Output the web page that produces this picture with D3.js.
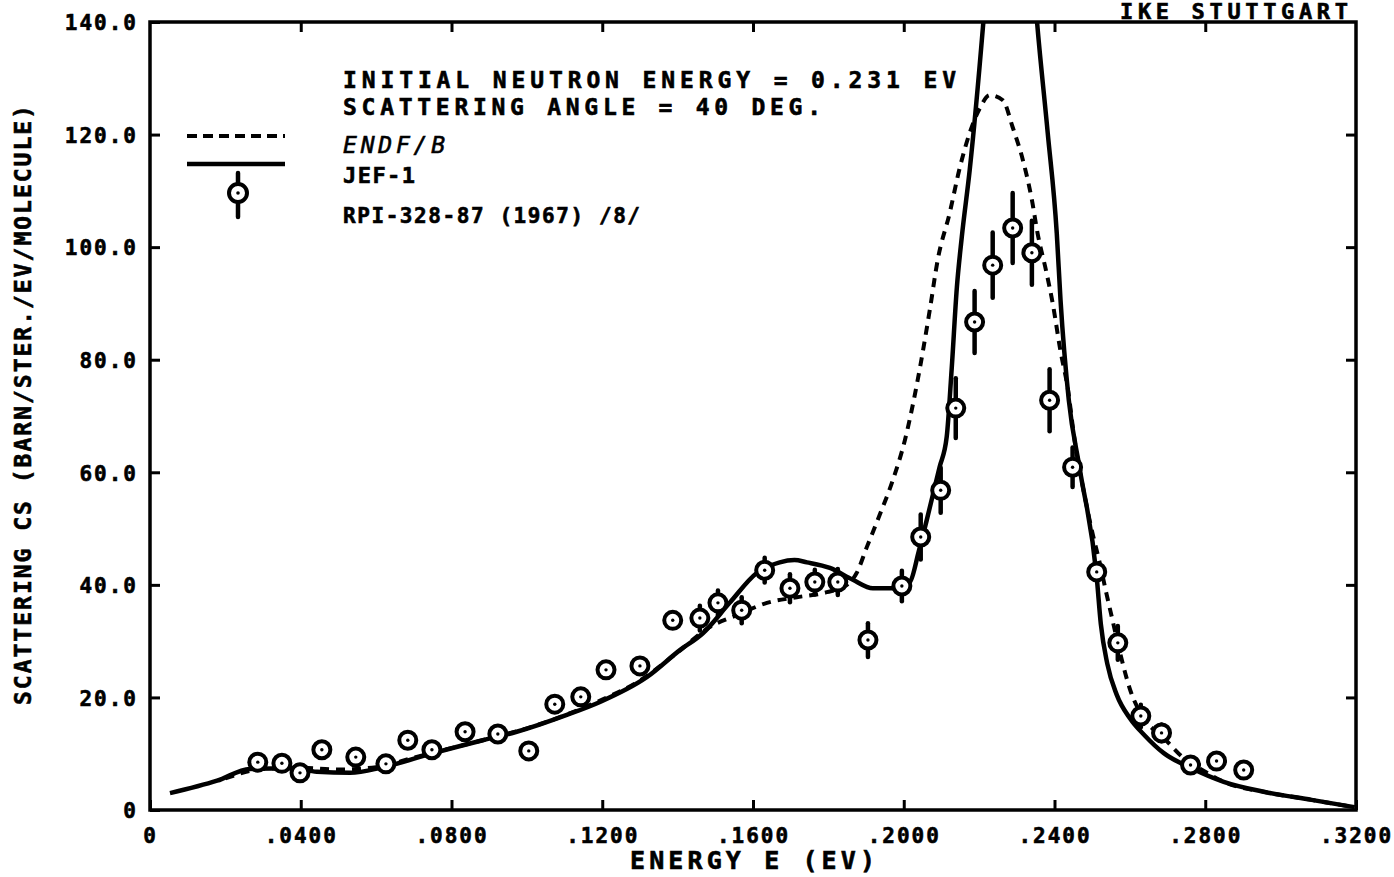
<!DOCTYPE html>
<html>
<head>
<meta charset="utf-8">
<script src="https://cdn.jsdelivr.net/npm/d3@7/dist/d3.min.js"></script>
<style>
  body { margin: 0; background: #fff; }
  svg { display: block; }
  text { font-family: "DejaVu Sans Mono", "Liberation Mono", monospace; font-weight: bold; fill: #000; stroke: #000; stroke-width: 0.6px; }
</style>
</head>
<body>
<svg id="chart" width="1394" height="877"></svg>
<script>
// ---- Axis ticks ----
const xTickValues = [0, 0.04, 0.08, 0.12, 0.16, 0.20, 0.24, 0.28, 0.32];
const xTickLabels = ["0", ".0400", ".0800", ".1200", ".1600", ".2000", ".2400", ".2800", ".3200"];
const yTickValues = [0, 20, 40, 60, 80, 100, 120, 140];
const yTickLabels = ["0", "20.0", "40.0", "60.0", "80.0", "100.0", "120.0", "140.0"];

// ---- ENDF/B evaluation (dashed) ----
const endfEnergy = [0.0200, 0.0300, 0.0400, 0.0500, 0.0600, 0.0700, 0.0800, 0.0900, 0.1000, 0.1100,
  0.1200, 0.1300, 0.1400, 0.1485, 0.1557, 0.1637, 0.1716, 0.1796, 0.1849, 0.1875,
  0.1902, 0.1936, 0.1971, 0.2003, 0.2037, 0.2069, 0.2090, 0.2122, 0.2149, 0.2175,
  0.2202, 0.2228, 0.2263, 0.2289, 0.2316, 0.2340, 0.2355, 0.2379, 0.2395, 0.2416,
  0.2435, 0.2454, 0.2480, 0.2499, 0.2520, 0.2538, 0.2552, 0.2573, 0.2602, 0.2637,
  0.2690, 0.2743, 0.2800, 0.2849, 0.2958, 0.3082, 0.3196];
const endfCS = [5.6, 7.3, 7.5, 7.2, 7.6, 9.3, 11.0, 12.7, 14.5, 16.8,
  19.6, 23.0, 28.0, 32.5, 34.6, 36.8, 37.8, 38.7, 40.0, 42.1,
  46.7, 52.4, 58.6, 65.7, 76.4, 88.8, 97.7, 106.1, 114.2, 120.3,
  124.7, 127.0, 126.1, 121.3, 115.5, 108.4, 102.5, 95.4, 90.1, 81.5,
  75.0, 65.4, 55.8, 49.7, 43.9, 38.4, 34.3, 28.2, 21.1, 16.3,
  12.8, 9.2, 6.8, 5.0, 3.2, 1.8, 0.5];

// ---- JEF-1 evaluation (solid) ----
const jefEnergy = [0.0053, 0.0178, 0.0265, 0.0371, 0.0443, 0.0531, 0.0618, 0.0751, 0.0883, 0.0973,
  0.1106, 0.1194, 0.1318, 0.1406, 0.1467, 0.1538, 0.1610, 0.1671, 0.1710, 0.1743, 0.1804,
  0.1865, 0.1918, 0.1971, 0.2016, 0.2040, 0.2061, 0.2095, 0.2114, 0.2127, 0.2141,
  0.2154, 0.2175, 0.2210, 0.2240, 0.2283, 0.2325, 0.2355, 0.2382, 0.2406, 0.2416,
  0.2438, 0.2467, 0.2512, 0.2523, 0.2540, 0.2565, 0.2600, 0.2640, 0.2690, 0.2761,
  0.2849, 0.2958, 0.3082, 0.3196];
const jefCS = [3.0, 5.2, 7.3, 7.4, 6.8, 6.6, 7.6, 10.1, 12.4, 13.9,
  16.9, 19.2, 23.6, 28.4, 31.4, 36.8, 42.1, 44.0, 44.4, 44.0, 43.0,
  40.9, 39.4, 39.4, 40.5, 46.0, 51.5, 60.9, 66.3, 78.2, 92.9,
  101.8, 113.7, 139.0, 165.0, 180.0, 165.0, 139.0, 120.3, 102.5, 90.6,
  72.8, 60.6, 41.4, 33.0, 26.0, 20.5, 16.3, 13.2, 10.1, 7.5,
  5.0, 3.2, 1.8, 0.5];

// ---- RPI-328-87 (1967) measurement ----
const measEnergy = [0.0286, 0.0350, 0.0398, 0.0456, 0.0546, 0.0626, 0.0684, 0.0748, 0.0836, 0.0923,
  0.1005, 0.1074, 0.1143, 0.1210, 0.1300, 0.1387, 0.1459, 0.1507, 0.1570, 0.1631,
  0.1698, 0.1764, 0.1825, 0.1905, 0.1995, 0.2045, 0.2098, 0.2138, 0.2188, 0.2236,
  0.2289, 0.2340, 0.2387, 0.2448, 0.2512, 0.2568, 0.2629, 0.2684, 0.2761, 0.2830,
  0.2902];
const measCS = [8.5, 8.3, 6.6, 10.7, 9.4, 8.2, 12.4, 10.7, 13.9, 13.5,
  10.5, 18.8, 20.1, 24.9, 25.6, 33.7, 34.1, 36.8, 35.5, 42.6,
  39.4, 40.5, 40.5, 30.2, 39.8, 48.5, 56.8, 71.4, 86.7, 96.8,
  103.4, 99.0, 72.8, 60.9, 42.3, 29.7, 16.7, 13.7, 8.0, 8.7,
  7.1];
const measErr = [0.8, 0.8, 0.5, 0.8, 0.8, 0.8, 1.0, 0.8, 1.0, 1.0,
  1.0, 1.2, 1.2, 1.2, 1.2, 0.8, 2.2, 2.2, 2.3, 2.2,
  2.5, 2.2, 2.3, 3.0, 2.7, 4.0, 4.0, 5.3, 5.5, 5.8,
  6.2, 5.7, 5.5, 3.5, 1.5, 3.0, 2.0, 1.5, 1.2, 0.8,
  0.8];

// ---- Text blocks ----
const headerText = "IKE STUTTGART";
const infoLines = ["INITIAL NEUTRON ENERGY = 0.231 EV", "SCATTERING ANGLE = 40 DEG."];
const legendLabels = ["ENDF/B", "JEF-1", "RPI-328-87 (1967) /8/"];
const xTitle = "ENERGY E (EV)";
const yTitle = "SCATTERING CS (BARN/STER./EV/MOLECULE)";

// ---- Layout ----
const svg = d3.select("#chart");
const plotL = 150, plotR = 1356, plotT = 22, plotB = 810;

const x = d3.scaleLinear().domain([0, 0.32]).range([plotL, plotR]);
const y = d3.scaleLinear().domain([0, 140]).range([plotB, plotT]);

svg.append("defs").append("clipPath").attr("id", "plotClip")
  .append("rect").attr("x", plotL).attr("y", plotT)
  .attr("width", plotR - plotL).attr("height", plotB - plotT);

// Frame
svg.append("rect")
  .attr("x", plotL).attr("y", plotT)
  .attr("width", plotR - plotL).attr("height", plotB - plotT)
  .attr("fill", "none").attr("stroke", "#000").attr("stroke-width", 3.5);

const tickFont = g => g.selectAll("text")
  .style("font-size", "21px").style("letter-spacing", "2px");

// Bottom axis with inward ticks
const gx = svg.append("g").attr("transform", `translate(0,${plotB})`)
  .call(d3.axisBottom(x).tickValues(xTickValues).tickSizeInner(-10).tickSizeOuter(0)
    .tickFormat((d, i) => xTickLabels[i]));
gx.select(".domain").remove();
gx.selectAll("line").attr("stroke", "#000").attr("stroke-width", 3);
gx.call(tickFont);
gx.selectAll("text").attr("y", 33).attr("dy", 0).attr("fill", "#000");

// Top axis, ticks only
const gt = svg.append("g").attr("transform", `translate(0,${plotT})`)
  .call(d3.axisTop(x).tickValues(xTickValues.slice(1, -1)).tickSizeInner(-10).tickSizeOuter(0).tickFormat(""));
gt.select(".domain").remove();
gt.selectAll("line").attr("stroke", "#000").attr("stroke-width", 3);

// Left axis
const gy = svg.append("g").attr("transform", `translate(${plotL},0)`)
  .call(d3.axisLeft(y).tickValues(yTickValues).tickSizeInner(-10).tickSizeOuter(0)
    .tickFormat((d, i) => yTickLabels[i]));
gy.select(".domain").remove();
gy.selectAll("line").attr("stroke", "#000").attr("stroke-width", 3);
gy.call(tickFont);
gy.selectAll("text").attr("x", -12).attr("dy", "0.37em").attr("fill", "#000");

// Right axis, ticks only
const gr = svg.append("g").attr("transform", `translate(${plotR},0)`)
  .call(d3.axisRight(y).tickValues(yTickValues.slice(1, -1)).tickSizeInner(-10).tickSizeOuter(0).tickFormat(""));
gr.select(".domain").remove();
gr.selectAll("line").attr("stroke", "#000").attr("stroke-width", 3);

// Axis titles
svg.append("text")
  .attr("x", 630).attr("y", 869)
  .attr("textLength", 245).attr("lengthAdjust", "spacing")
  .style("font-size", "25px")
  .text(xTitle);

svg.append("text")
  .attr("transform", "translate(31,405) rotate(-90)")
  .attr("text-anchor", "middle")
  .attr("textLength", 600).attr("lengthAdjust", "spacing")
  .style("font-size", "23px")
  .text(yTitle);

svg.append("text")
  .attr("x", 1348).attr("y", 19)
  .attr("text-anchor", "end")
  .attr("textLength", 228).attr("lengthAdjust", "spacing")
  .style("font-size", "22px")
  .text(headerText);

// Curves
const plot = svg.append("g").attr("clip-path", "url(#plotClip)");

const line = d3.line()
  .x(d => x(d[0])).y(d => y(d[1]))
  .curve(d3.curveMonotoneX);

plot.append("path")
  .datum(d3.zip(endfEnergy, endfCS))
  .attr("d", line)
  .attr("fill", "none").attr("stroke", "#000")
  .attr("stroke-width", 4).attr("stroke-dasharray", "9,7");

plot.append("path")
  .datum(d3.zip(jefEnergy, jefCS))
  .attr("d", line)
  .attr("fill", "none").attr("stroke", "#000")
  .attr("stroke-width", 4.5).attr("stroke-linejoin", "round");

// Measured points with error bars
const meas = measEnergy.map((e, i) => ({ e, v: measCS[i], err: measErr[i] }));
const pts = plot.append("g").selectAll("g").data(meas).join("g")
  .attr("transform", d => `translate(${x(d.e)},0)`);

pts.append("line")
  .attr("x1", 0).attr("x2", 0)
  .attr("y1", d => y(d.v + d.err)).attr("y2", d => y(d.v - d.err))
  .attr("stroke", "#000").attr("stroke-width", 4.5).attr("stroke-linecap", "round");
pts.append("circle")
  .attr("cy", d => y(d.v)).attr("r", 8.5)
  .attr("fill", "#fff").attr("stroke", "#000").attr("stroke-width", 4);
pts.append("circle")
  .attr("cy", d => y(d.v)).attr("r", 1.7).attr("fill", "#000");

// Legend
const legX0 = 187, legX1 = 285;
svg.append("line")
  .attr("x1", legX0).attr("x2", legX1).attr("y1", 136).attr("y2", 136)
  .attr("stroke", "#000").attr("stroke-width", 4).attr("stroke-dasharray", "10,6");
svg.append("line")
  .attr("x1", legX0).attr("x2", legX1).attr("y1", 164).attr("y2", 164)
  .attr("stroke", "#000").attr("stroke-width", 4.5);
const legPt = svg.append("g").attr("transform", "translate(238,193)");
legPt.append("line").attr("y1", -20).attr("y2", 24)
  .attr("stroke", "#000").attr("stroke-width", 4.5).attr("stroke-linecap", "round");
legPt.append("circle").attr("r", 9).attr("fill", "#fff")
  .attr("stroke", "#000").attr("stroke-width", 4);
legPt.append("circle").attr("r", 1.8).attr("fill", "#000");

// Annotation block
const infoX = 343;
svg.append("text").attr("x", infoX).attr("y", 88)
  .attr("textLength", 613).attr("lengthAdjust", "spacing")
  .style("font-size", "23px").text(infoLines[0]);
svg.append("text").attr("x", infoX).attr("y", 115)
  .attr("textLength", 478).attr("lengthAdjust", "spacing")
  .style("font-size", "23px").text(infoLines[1]);
svg.append("text").attr("x", infoX).attr("y", 153)
  .attr("textLength", 102).attr("lengthAdjust", "spacing")
  .style("font-size", "23px").style("font-style", "italic").style("font-weight", "normal")
  .text(legendLabels[0]);
svg.append("text").attr("x", infoX).attr("y", 183)
  .attr("textLength", 72).attr("lengthAdjust", "spacing")
  .style("font-size", "22px").text(legendLabels[1]);
svg.append("text").attr("x", infoX).attr("y", 223)
  .attr("textLength", 297).attr("lengthAdjust", "spacing")
  .style("font-size", "21px").text(legendLabels[2]);
</script>
</body>
</html>
